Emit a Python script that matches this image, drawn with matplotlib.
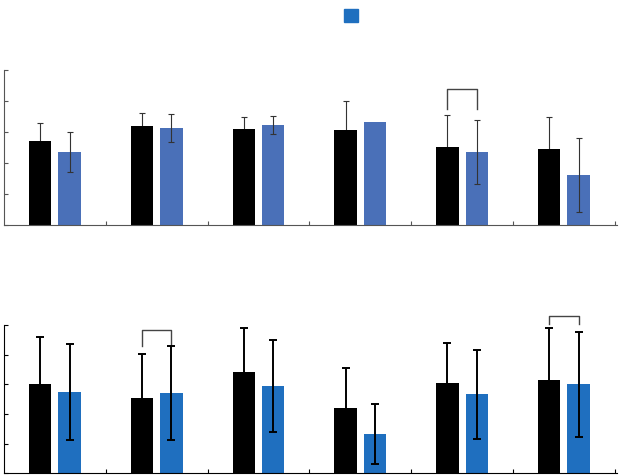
import matplotlib.pyplot as plt
from matplotlib.patches import Patch
import numpy as np

# top panel (6 groups, two conditions)
top_black = [2.71, 3.18, 3.09, 3.04, 2.49, 2.45]
top_black_err = [0.58, 0.41, 0.38, 0.95, 1.06, 1.02]
top_blue = [2.35, 3.11, 3.22, 3.32, 2.35, 1.61]
top_blue_err = [0.64, 0.45, 0.29, np.nan, 1.04, 1.19]

# bottom panel
bot_black = [3.01, 2.55, 3.43, 2.21, 3.04, 3.15]
bot_black_err = [1.59, 1.46, 1.46, 1.33, 1.36, 1.74]
bot_blue = [2.74, 2.71, 2.93, 1.33, 2.66, 3.00]
bot_blue_err = [1.62, 1.58, 1.55, 1.01, 1.50, 1.77]

# significance brackets: (group, bar height, leg bottom)
top_brackets = [(4, 4.37, 3.72)]
bot_brackets = [(1, 4.83, 4.30), (5, 5.31, 5.03)]

x = np.arange(6)
w = 0.22
off = 0.145

fig = plt.figure(figsize=(6.19, 4.77), dpi=100)
ax1 = fig.add_axes([0.0065, 0.527, 0.99, 0.325])
ax2 = fig.add_axes([0.0065, 0.0057, 0.99, 0.311])


def panel(ax, black, black_err, blue, blue_err, blue_col, ecol, elw, cap, spine_col, brackets):
    # black whiskers sit behind the black bars, so only the upper half shows
    ax.errorbar(x - off, black, yerr=black_err, fmt="none", ecolor=ecol,
                elinewidth=elw, capsize=cap, capthick=elw, zorder=1)
    ax.bar(x - off, black, w, color="black", zorder=2)
    ax.bar(x + off, blue, w, color=blue_col, zorder=2)
    e = np.array(blue_err)
    m = ~np.isnan(e)
    ax.errorbar((x + off)[m], np.array(blue)[m], yerr=e[m], fmt="none",
                ecolor=ecol, elinewidth=elw, capsize=cap, capthick=elw, zorder=3)
    for g, h, low in brackets:
        ax.plot([g - off, g - off, g + off, g + off], [low, h, h, low],
                color="#444444", lw=1.0, clip_on=False)
    ax.set_xlim(-0.5, 5.52)
    ax.set_ylim(0, 5)
    ax.set_yticks(np.arange(0, 6))
    ax.set_xticks(np.arange(0.5, 6, 1))
    ax.set_xticklabels([])
    ax.set_yticklabels([])
    ax.tick_params(direction="in", length=3, color=spine_col)
    for s in ["top", "right"]:
        ax.spines[s].set_visible(False)
    for s in ["left", "bottom"]:
        ax.spines[s].set_color(spine_col)


panel(ax1, top_black, top_black_err, top_blue, top_blue_err,
      "#4a70b8", "#333333", 0.8, 2, "#555555", top_brackets)
panel(ax2, bot_black, bot_black_err, bot_blue, bot_blue_err,
      "#1f6fbf", "black", 1.4, 3, "black", bot_brackets)

fig.legend(handles=[Patch(color="#1f6fbf")], labels=[""], loc="upper left",
           bbox_to_anchor=(0.535, 1.005), frameon=False, handlelength=1.0,
           handleheight=1.1, handletextpad=0)

fig.savefig("out.png", dpi=100)
